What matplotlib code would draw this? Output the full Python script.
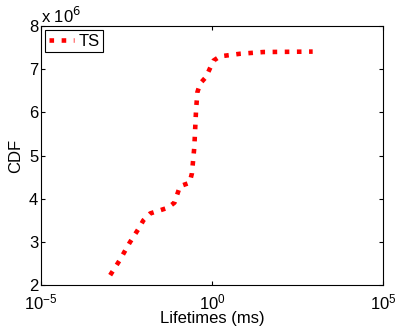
import numpy as np
from matplotlib import pyplot as plt
from matplotlib.ticker import FixedLocator, FuncFormatter, NullLocator

plt.rcParams["font.family"] = ["Liberation Sans", "DejaVu Sans"]
plt.rcParams["font.size"] = 12

# Datos (x en ms, y en unidades absolutas)
lifetimes = 10 ** np.array([-2.98, -2.69, -2.42, -2.13, -2.01, -1.81, -1.30, -1.10,
                            -0.94, -0.66, -0.59, -0.52, -0.47, -0.43, -0.35, -0.18,
                            0.04, 0.23, 0.82, 1.50, 2.94])
cdf = np.array([2.23, 2.59, 2.97, 3.33, 3.50, 3.66, 3.79, 3.91,
                4.29, 4.37, 4.59, 5.20, 6.05, 6.47, 6.67, 6.82,
                7.20, 7.30, 7.36, 7.40, 7.41]) * 1e6
label = "TS"

fig = plt.figure(figsize=(3.95, 3.35), dpi=100)
ax = fig.add_axes([0.104, 0.149, 0.866, 0.773])

line, = ax.plot(lifetimes, cdf, ":", color="red", linewidth=3.3, label=label)
line.set_dash_capstyle("butt")

ax.set_xscale("log")
ax.set_xlim(1e-5, 1e5)
ax.set_ylim(2e6, 8e6)
ax.xaxis.set_major_locator(FixedLocator([1e-5, 1e0, 1e5]))
ax.xaxis.set_minor_locator(NullLocator())
ax.yaxis.set_major_locator(FixedLocator(np.arange(2, 9) * 1e6))
ax.yaxis.set_major_formatter(FuncFormatter(lambda v, p: "%d" % round(v / 1e6)))
ax.tick_params(direction="in", top=True, right=True, length=3, labelsize=12)
ax.tick_params(axis="y", pad=2)
ax.tick_params(axis="x", pad=5)

ax.text(0.0, 1.0, r"x 10$^6$", transform=ax.transAxes, fontsize=12,
        ha="left", va="bottom")

ax.set_xlabel("Lifetimes (ms)", labelpad=-1)
ax.set_ylabel("CDF", labelpad=4)

leg = ax.legend(loc="upper left", handlelength=1.5, borderaxespad=0.25,
                fancybox=False, framealpha=1, edgecolor="black",
                borderpad=0.2, handletextpad=0.3)
leg.get_frame().set_linewidth(0.8)

fig.savefig("out.png", dpi=100)
